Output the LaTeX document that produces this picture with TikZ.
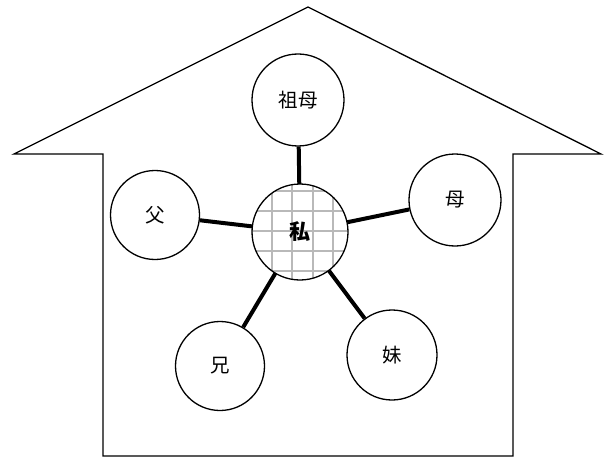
\documentclass[tikz,border=0pt]{standalone}
\usepackage{fontspec}
\newfontfamily\cjk{Noto Sans CJK JP}
\begin{document}
\begin{tikzpicture}[x=1pt,y=-1pt,
  person/.style={circle,draw,line width=1.3pt,inner sep=0pt,font=\cjk\fontsize{19.5}{19.5}\selectfont,fill=white},
  link/.style={line width=4pt},
  wall/.style={line width=1.3pt,line join=miter}]
\useasboundingbox (0,0) rectangle (604,457);
\draw[wall] (103,456) -- (103,154) -- (14,154) -- (308,7) -- (601,154) -- (513,154) -- (513,456) -- cycle;
\node[person,minimum size=92pt] (gm) at (298,100) {祖母};
\node[person,minimum size=89pt] (fa) at (155,215) {父};
\node[person,minimum size=92pt] (mo) at (455,200) {母};
\node[person,minimum size=89pt] (br) at (220,366) {兄};
\node[person,minimum size=90pt] (si) at (392,355) {妹};
\node[circle,minimum size=96pt,inner sep=0pt] (me) at (300,232) {};
\draw[link] (me) -- (gm);
\draw[link] (me) -- (fa);
\draw[link] (me) -- (mo);
\draw[link] (me) -- (br);
\draw[link] (me) -- (si);
\begin{scope}
  \clip (300,232) circle (48pt);
  \fill[white] (300,232) circle (48pt);
  \foreach \v in {252,272,292,313,333}
    \draw[gray!55,line width=2.5pt] (\v,180) -- (\v,285);
  \foreach \h in {191,211,231,251,271}
    \draw[gray!55,line width=2.5pt] (248,\h) -- (352,\h);
\end{scope}
\draw[line width=1.3pt] (300,232) circle (48pt);
\node[font=\cjk\bfseries\fontsize{21}{21}\selectfont,inner sep=0pt] at (me) {私};
\end{tikzpicture}
\end{document}
